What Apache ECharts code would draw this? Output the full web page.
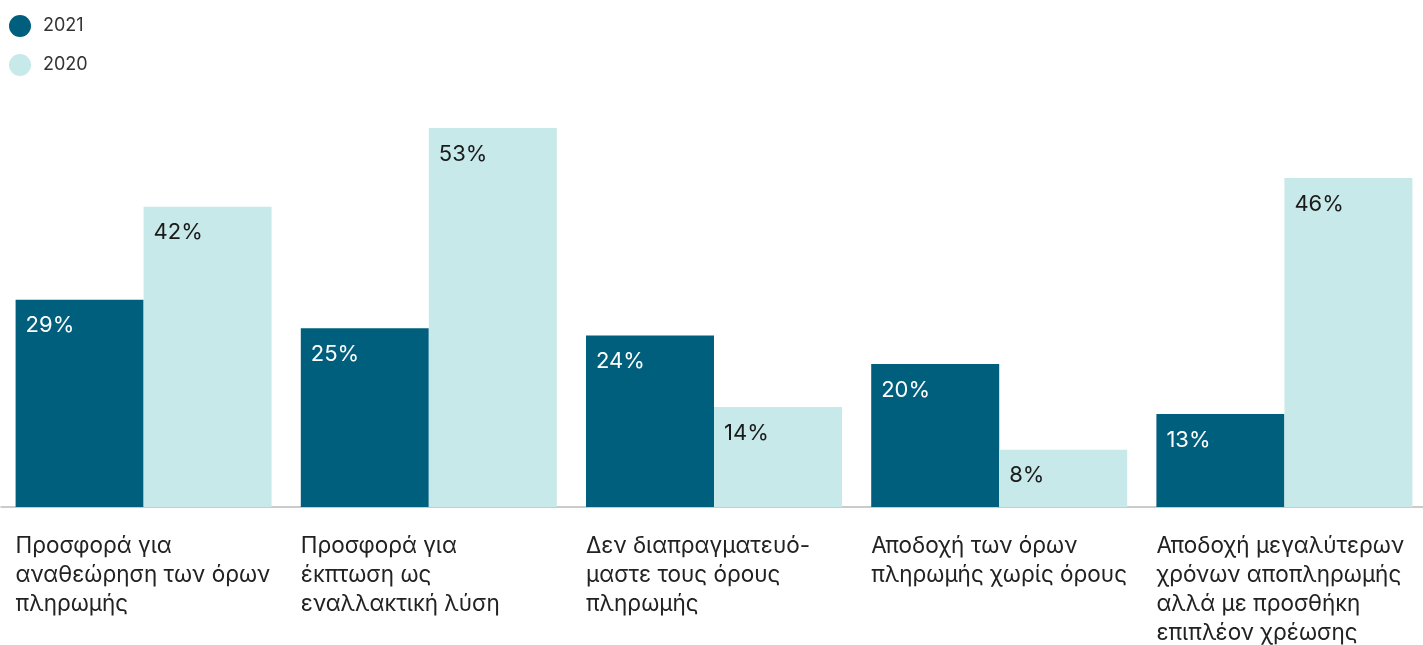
<!DOCTYPE html>
<html>
<head>
<meta charset="utf-8">
<script src="https://cdn.jsdelivr.net/npm/echarts@6/dist/echarts.min.js"></script>
<style>
  html, body { margin: 0; padding: 0; background: #fff; overflow: hidden; }
  #chart { width: 1430px; height: 645px; }
</style>
</head>
<body>
<div id="chart"></div>
<script>
/*----- 数据 -----*/
var categories = [
	'Προσφορά για\nαναθεώρηση των όρων\nπληρωμής',
	'Προσφορά για\nέκπτωση ως\nεναλλακτική λύση',
	'Δεν διαπραγματευό-\nμαστε τους όρους\nπληρωμής',
	'Αποδοχή των όρων\nπληρωμής χωρίς όρους',
	'Αποδοχή μεγαλύτερων\nχρόνων αποπληρωμής\nαλλά με προσθήκη\nεπιπλέον χρέωσης'
];
var values2021 = [29, 25, 24, 20, 13];
var values2020 = [42, 53, 14, 8, 46];

var FONT = 'Inter, "Noto Sans", sans-serif';
var BAR_W = 128;

/*----- 柱状图 -----*/
function drawChart(id){
	var labelData = [];
	for(var i = 0; i < categories.length; i++){
		labelData.push([i, 0]);
	}
	var option = {
		animation: false,
		legend: {
			orient: 'vertical',
			left: 4,
			top: 10,
			itemWidth: 22,
			itemHeight: 22,
			itemGap: 17,
			icon: 'circle',
			textStyle: {
				fontFamily: FONT,
				fontSize: 18,
				color: '#333',
				padding: [0, 0, 0, 7]
			},
			data: ['2021', '2020']
		},
		grid: {
			left: 1,
			right: 3,
			top: 78,
			bottom: 138
		},
		xAxis: {
			type: 'category',
			data: categories,
			axisLine: { lineStyle: { color: '#bbbbbb', width: 1.5 } },
			axisTick: { show: false },
			axisLabel: { show: false }
		},
		yAxis: {
			type: 'value',
			min: 0,
			max: 60,
			show: false,
			splitLine: { show: false }
		},
		series: [
			{
				name: '2021',
				type: 'bar',
				data: values2021,
				barGap: '0%',
				barWidth: BAR_W,
				itemStyle: { color: '#005f7d' },
				label: {
					show: true,
					position: [10, 15],
					formatter: '{c}%',
					fontFamily: FONT,
					fontSize: 22,
					color: '#ffffff'
				}
			},
			{
				name: '2020',
				type: 'bar',
				data: values2020,
				barWidth: BAR_W,
				itemStyle: { color: '#c8e9e9' },
				label: {
					show: true,
					position: [10, 15],
					formatter: '{c}%',
					fontFamily: FONT,
					fontSize: 22,
					color: '#1a1a1a'
				}
			},
			{
				// 类目标签：左对齐到每组柱子的起点
				type: 'custom',
				silent: true,
				data: labelData,
				renderItem: function(params, api){
					var pt = api.coord([api.value(0), 0]);
					return {
						type: 'text',
						x: pt[0] - BAR_W,
						y: pt[1] + 25,
						style: {
							text: categories[api.value(0)],
							fontFamily: FONT,
							fontSize: 22.5,
							lineHeight: 29,
							fill: '#222222',
							align: 'left',
							verticalAlign: 'top'
						}
					};
				}
			}
		]
	};
	echarts.init(document.getElementById(id)).setOption(option, true);
}

drawChart('chart');
</script>
</body>
</html>
